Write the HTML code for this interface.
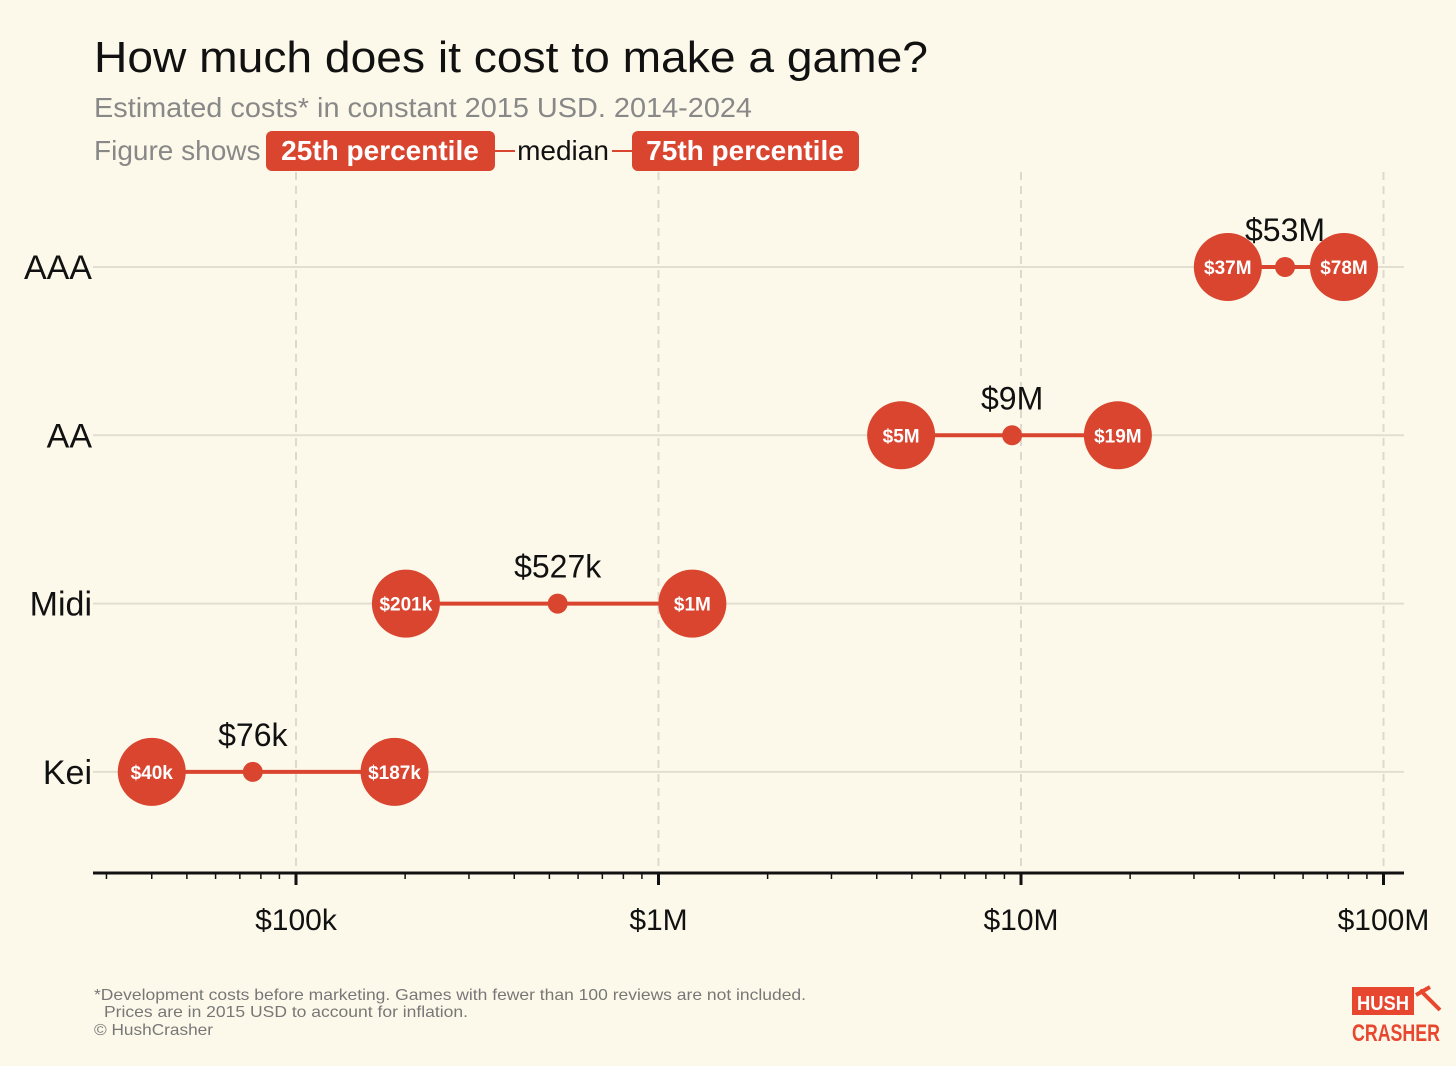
<!DOCTYPE html>
<html><head><meta charset="utf-8"><style>
body{margin:0;background:#fdf9ea;width:1456px;height:1061px;overflow:hidden;font-family:"Liberation Sans",sans-serif}
</style></head><body>
<svg id="c" width="1456" height="1061" xmlns="http://www.w3.org/2000/svg">
<rect width="1456" height="1061" fill="#fdf9ea"/>
<text x="94" y="72" font-size="44" fill="#111" textLength="834" lengthAdjust="spacingAndGlyphs">How much does it cost to make a game?</text>
<text x="94" y="117" font-size="28" fill="#888" textLength="658" lengthAdjust="spacingAndGlyphs">Estimated costs* in constant 2015 USD. 2014-2024</text>
<g>
<text x="94" y="160" font-size="28" fill="#888">Figure shows</text>
<rect x="266" y="131" width="229" height="40" rx="6" fill="#d9452f"/>
<text x="380" y="160" font-size="28" font-weight="bold" fill="#fff" text-anchor="middle">25th percentile</text>
<line x1="495" y1="151" x2="515" y2="151" stroke="#d9452f" stroke-width="2"/>
<text x="563" y="160" font-size="28" fill="#111" text-anchor="middle">median</text>
<line x1="612" y1="151" x2="632" y2="151" stroke="#d9452f" stroke-width="2"/>
<rect x="632" y="131" width="227" height="40" rx="6" fill="#d9452f"/>
<text x="745" y="160" font-size="28" font-weight="bold" fill="#fff" text-anchor="middle">75th percentile</text>
</g>
<g id="plot"></g>
<text x="94" y="1000" font-size="16" fill="#777" textLength="712" lengthAdjust="spacingAndGlyphs">*Development costs before marketing. Games with fewer than 100 reviews are not included.</text>
<text x="104" y="1017" font-size="16" fill="#777" textLength="364" lengthAdjust="spacingAndGlyphs">Prices are in 2015 USD to account for inflation.</text>
<text x="94" y="1035" font-size="16" fill="#777" textLength="119" lengthAdjust="spacingAndGlyphs">© HushCrasher</text>
<g>
<rect x="1352" y="987" width="62" height="28" fill="#e8472f"/>
<text x="1383" y="1010" font-size="20" font-weight="bold" fill="#fff" text-anchor="middle" textLength="52" lengthAdjust="spacingAndGlyphs">HUSH</text>
<path d="M1416 995 l14 -8 M1420 990 l20 20" stroke="#e8472f" stroke-width="4" fill="none"/>
<text x="1352" y="1041" font-size="24" font-weight="bold" fill="#e8472f" textLength="88" lengthAdjust="spacingAndGlyphs">CRASHER</text>
</g>
</svg>
<script>
const categories=["AAA","AA","Midi","Kei"];
const p25=[37.2e6,4.67e6,201e3,40e3];
const medians=[53.5e6,9.45e6,527e3,76e3];
const p75=[77.8e6,18.5e6,1.24e6,187e3];
const p25Labels=["$37M","$5M","$201k","$40k"];
const medianLabels=["$53M","$9M","$527k","$76k"];
const p75Labels=["$78M","$19M","$1M","$187k"];
const tickValues=[1e5,1e6,1e7,1e8];
const tickLabels=["$100k","$1M","$10M","$100M"];
const ns="http://www.w3.org/2000/svg";
const X=v=>296+(Math.log10(v)-5)*362.5;
const Y=i=>267+i*168.3;
const g=document.getElementById('plot');
function el(t,a,txt){const e=document.createElementNS(ns,t);for(const k in a)e.setAttribute(k,a[k]);if(txt!=null)e.textContent=txt;g.appendChild(e);return e;}
tickValues.forEach((v,i)=>{
 const l=el('line',{x1:X(v),x2:X(v),y1:172,y2:873,stroke:'#ddd9cc','stroke-width':2,'stroke-dasharray':'8 6'});
 
 
});
categories.forEach((c,i)=>{
 const l=el('line',{x1:93,x2:1404,y1:Y(i),y2:Y(i),stroke:'#e2ded0','stroke-width':2});
 
 
 const t=el('text',{x:92,y:Y(i)+12,'font-size':34,fill:'#111','text-anchor':'end'},c);
 
 
});
el('line',{x1:93,x2:1404,y1:873,y2:873,stroke:'#111','stroke-width':3});
for(let d=4;d<=8;d++)for(let m=1;m<10;m++){const v=m*Math.pow(10,d);const x=X(v);if(x<93||x>1404)continue;
 el('line',{x1:x,x2:x,y1:873,y2:m==1?885:879,stroke:'#111','stroke-width':m==1?3:1.5});}
tickValues.forEach((v,i)=>{
 const t=el('text',{x:X(v),y:930,'font-size':30,fill:'#111','text-anchor':'middle'},tickLabels[i]);
 
 
});
categories.forEach((c,i)=>{
 const y=Y(i);
 const ln=el('line',{x1:X(p25[i]),x2:X(p75[i]),y1:y,y2:y,stroke:'#d9452f','stroke-width':4});
 
 
 [[p25,p25Labels,'p25'],[p75,p75Labels,'p75']].forEach(([arr,lab,n])=>{
  const ci=el('circle',{cx:X(arr[i]),cy:y,r:34,fill:'#d9452f'});
  
  
  el('text',{x:X(arr[i]),y:y+7,'font-size':19,'font-weight':'bold',fill:'#fff','text-anchor':'middle'},lab[i]);
 });
 const md=el('circle',{cx:X(medians[i]),cy:y,r:10,fill:'#d9452f'});
 
 
 const mt=el('text',{x:X(medians[i]),y:y-26,'font-size':32,fill:'#111','text-anchor':'middle'},medianLabels[i]);
 
 
});
</script>
</body></html>
